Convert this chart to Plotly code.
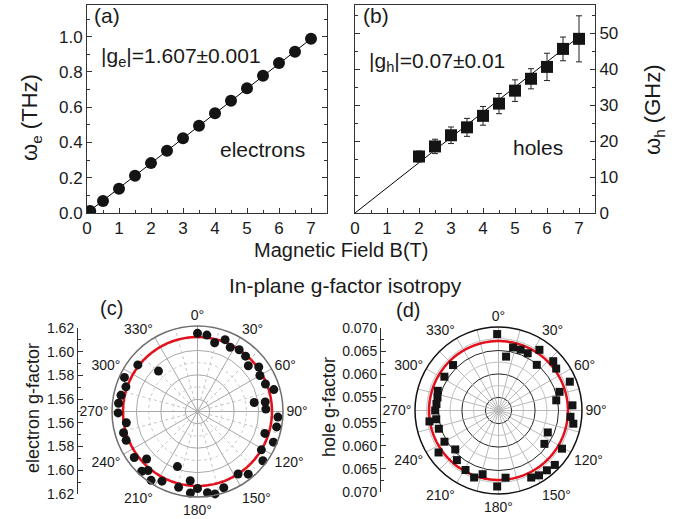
import plotly.graph_objects as go
import numpy as np

W, H = 679, 519
FONT = "Liberation Sans, Arial, sans-serif"

# ---------------- panel (a): electrons ----------------
B_e = [0.1, 0.5, 1, 1.5, 2, 2.5, 3, 3.5, 4, 4.5, 5, 5.5, 6, 6.5, 7]
omega_e = [0.012, 0.068, 0.138, 0.211, 0.283, 0.353, 0.424, 0.495,
           0.566, 0.637, 0.708, 0.778, 0.851, 0.915, 0.988]
fit_B_e = [0, 7]
fit_omega_e = [0, 0.988]

# ---------------- panel (b): holes ----------------
B_h = [2, 2.5, 3, 3.5, 4, 4.5, 5, 5.5, 6, 6.5, 7]
omega_h = [15.7, 18.5, 21.6, 23.8, 27.0, 30.4, 34.0, 37.3, 40.6, 45.6, 48.4]
omega_h_err = [1.5, 2.0, 2.3, 2.5, 2.6, 2.8, 3.0, 2.8, 3.8, 3.3, 6.4]
fit_B_h = [0, 7]
fit_omega_h = [0, 49.0]

# ---------------- panel (c): electron g-factor vs angle ----------------
theta_c = [0, 7, 14, 21, 27, 34, 41, 48, 54, 60, 68, 74, 81, 82, 88, 94, 101,
           108, 112, 121, 127, 141, 147, 161, 168, 173, 180, 185, 186, 194,
           200, 207, 214, 220, 223, 227, 234, 248, 254, 261, 269, 276, 282,
           289, 295, 302, 308, 316]
g_c = [1.614, 1.613, 1.608, 1.613, 1.609, 1.611, 1.610, 1.606, 1.612, 1.609,
       1.610, 1.615, 1.597, 1.606, 1.606, 1.616, 1.616, 1.608, 1.617, 1.611,
       1.617, 1.616, 1.611, 1.616, 1.619, 1.617, 1.613, 1.617, 1.607, 1.614,
       1.598, 1.614, 1.618, 1.613, 1.617, 1.607, 1.614, 1.613, 1.613, 1.609,
       1.615, 1.615, 1.614, 1.612, 1.616, 1.621, 1.612, 1.596]
g_c_fit = 1.611
g_c_center = 1.55
g_c_ticks = [1.56, 1.58, 1.60, 1.62]

# ---------------- panel (d): hole g-factor vs angle ----------------
theta_d = [359, 8, 13, 20, 27, 34, 40, 48, 54, 68, 73, 80, 86, 95, 100, 114,
           121, 126, 134, 141, 148, 154, 174, 181, 194, 200, 209, 220, 228,
           235, 240, 253, 261, 262, 270, 276, 282, 288, 302, 315]
g_d = [0.0685, 0.0638, 0.0660, 0.0660, 0.0659, 0.0678, 0.0649, 0.0679,
       0.0674, 0.0686, 0.0658, 0.0647, 0.0680, 0.0676, 0.0684, 0.0637,
       0.0680, 0.0643, 0.0689, 0.0686, 0.0685, 0.0681, 0.0666, 0.0684,
       0.0662, 0.0674, 0.0667, 0.0660, 0.0646, 0.0678, 0.0655, 0.0655,
       0.0671, 0.0656, 0.0657, 0.0655, 0.0655, 0.0658, 0.0658, 0.0659]
g_d_fit = 0.0670
g_d_center = 0.0522
g_d_ticks = [0.055, 0.060, 0.065, 0.070]

angle_ticks = list(range(0, 360, 30))


def px(x):
    return x / W


def py(y):
    return 1 - y / H


fig = go.Figure()

# (a)
fig.add_trace(go.Scatter(x=fit_B_e, y=fit_omega_e, mode="lines",
                         line=dict(color="black", width=1),
                         xaxis="x", yaxis="y", showlegend=False))
fig.add_trace(go.Scatter(x=B_e, y=omega_e, mode="markers",
                         marker=dict(color="#141414", size=12, symbol="circle"),
                         xaxis="x", yaxis="y", showlegend=False))
# (b)
fig.add_trace(go.Scatter(x=fit_B_h, y=fit_omega_h, mode="lines",
                         line=dict(color="black", width=1),
                         xaxis="x2", yaxis="y2", showlegend=False))
fig.add_trace(go.Scatter(x=B_h, y=omega_h, mode="markers",
                         marker=dict(color="#141414", size=12, symbol="square"),
                         error_y=dict(type="data", array=omega_h_err,
                                      color="#222", thickness=1, width=3),
                         xaxis="x2", yaxis="y2", showlegend=False))

# (c) polar
circ = np.linspace(0, 360, 361)
for gv in [1.57, 1.59, 1.61]:
    fig.add_trace(go.Scatterpolar(r=[gv] * len(circ), theta=circ, mode="lines",
                                  line=dict(color="#c4c4c4", width=1, dash="dot"),
                                  subplot="polar", showlegend=False,
                                  hoverinfo="skip"))
for th in range(15, 360, 30):
    fig.add_trace(go.Scatterpolar(r=[1.56, 1.62], theta=[th, th], mode="lines",
                                  line=dict(color="#c4c4c4", width=1, dash="dot"),
                                  subplot="polar", showlegend=False,
                                  hoverinfo="skip"))
fig.add_trace(go.Scatterpolar(r=[g_c_fit] * len(circ), theta=circ, mode="lines",
                              line=dict(color="#e3101c", width=2.5),
                              subplot="polar", showlegend=False))
fig.add_trace(go.Scatterpolar(r=g_c, theta=theta_c, mode="markers",
                              marker=dict(color="#141414", size=9),
                              subplot="polar", showlegend=False))

# (d) polar
for gv in [0.0575, 0.0625, 0.0675]:
    fig.add_trace(go.Scatterpolar(r=[gv] * len(circ), theta=circ, mode="lines",
                                  line=dict(color="#b8b8b8", width=1),
                                  subplot="polar2", showlegend=False,
                                  hoverinfo="skip"))
for th in range(15, 360, 30):
    fig.add_trace(go.Scatterpolar(r=[g_d_center, g_d_ticks[-1]], theta=[th, th],
                                  mode="lines", line=dict(color="#b8b8b8", width=1),
                                  subplot="polar2", showlegend=False,
                                  hoverinfo="skip"))
fig.add_trace(go.Scatterpolar(r=[g_d_fit] * len(circ), theta=circ, mode="lines",
                              line=dict(color="#e3101c", width=2.5),
                              subplot="polar2", showlegend=False))
fig.add_trace(go.Scatterpolar(r=g_d, theta=theta_d, mode="markers",
                              marker=dict(color="#141414", size=8, symbol="square"),
                              subplot="polar2", showlegend=False))

# dummy traces for the side linear axes of (c) and (d)
fig.add_trace(go.Scatter(x=[0], y=[0], mode="markers", marker=dict(opacity=0),
                         xaxis="x3", yaxis="y3", showlegend=False, hoverinfo="skip"))
fig.add_trace(go.Scatter(x=[0], y=[0], mode="markers", marker=dict(opacity=0),
                         xaxis="x4", yaxis="y4", showlegend=False, hoverinfo="skip"))

tickfont = dict(family=FONT, size=17, color="#1a1a1a")
smallfont = dict(family=FONT, size=14, color="#1a1a1a")

top_dom_y = [py(213), py(5)]
xa_common = dict(range=[0, 7.5], tickvals=list(range(0, 8)), ticks="inside",
                 ticklen=5, tickcolor="#333", showline=True, linecolor="#333",
                 linewidth=1, mirror=True, showgrid=False, zeroline=False,
                 tickfont=tickfont, automargin=False,
                 minor=dict(ticks="inside", ticklen=3, dtick=0.5, tick0=0,
                            tickcolor="#333"))

# side axes for polar
c_dom_y = [py(494), py(328)]
d_dom_y = [py(492), py(328)]
c_vals = [g - g_c_center for g in g_c_ticks]
c_tickvals = c_vals + [-v for v in c_vals]
c_ticktext = ["%.2f" % g for g in g_c_ticks] * 2
c_rng = g_c_ticks[-1] - g_c_center
d_vals = [g - g_d_center for g in g_d_ticks]
d_tickvals = d_vals + [-v for v in d_vals]
d_ticktext = ["%.3f" % g for g in g_d_ticks] * 2
d_rng = g_d_ticks[-1] - g_d_center
d_minor = [g - g_d_center for g in [0.0575, 0.0625, 0.0675]]

fig.update_layout(
    template="none",
    width=W, height=H,
    margin=dict(l=0, r=0, t=0, b=0, pad=0, autoexpand=False),
    paper_bgcolor="white", plot_bgcolor="white",
    font=dict(family=FONT, color="#1a1a1a"),
    showlegend=False,
    xaxis=dict(domain=[px(87), px(327)], anchor="y", **xa_common),
    yaxis=dict(domain=top_dom_y, anchor="x", range=[0, 1.18],
               tickvals=[0, 0.2, 0.4, 0.6, 0.8, 1.0],
               ticktext=["0.0", "0.2", "0.4", "0.6", "0.8", "1.0"],
               ticks="inside", ticklen=5, tickcolor="#333", showline=True,
               linecolor="#333", mirror="ticks", showgrid=False, zeroline=False,
               tickfont=tickfont, automargin=False,
               minor=dict(ticks="inside", ticklen=3, dtick=0.1, tick0=0,
                          tickcolor="#333")),
    xaxis2=dict(domain=[px(355), px(595)], anchor="y2", **xa_common),
    yaxis2=dict(domain=top_dom_y, anchor="x2", side="right", range=[0, 57.8],
                tickvals=[0, 10, 20, 30, 40, 50],
                ticks="inside", ticklen=5, tickcolor="#333", showline=True,
                linecolor="#333", mirror="ticks", showgrid=False, zeroline=False,
                tickfont=tickfont, automargin=False,
                minor=dict(ticks="inside", ticklen=3, dtick=5, tick0=0,
                           tickcolor="#333")),
    xaxis3=dict(domain=[px(78), px(79)], anchor="y3", visible=False, range=[0, 1],
                automargin=False),
    yaxis3=dict(domain=c_dom_y, anchor="x3", range=[-c_rng, c_rng],
                tickvals=c_tickvals, ticktext=c_ticktext, ticks="inside",
                ticklen=5, tickcolor="#333", showline=True, linecolor="#333",
                showgrid=False, zeroline=False, tickfont=smallfont, automargin=False,
                minor=dict(ticks="inside", ticklen=3, dtick=0.02, tick0=0,
                           tickcolor="#333")),
    xaxis4=dict(domain=[px(381), px(382)], anchor="y4", visible=False, range=[0, 1],
                automargin=False),
    yaxis4=dict(domain=d_dom_y, anchor="x4", range=[-d_rng, d_rng],
                tickvals=d_tickvals, ticktext=d_ticktext, ticks="inside",
                ticklen=5, tickcolor="#333", showline=True, linecolor="#333",
                showgrid=False, zeroline=False, tickfont=smallfont, automargin=False,
                minor=dict(ticks="inside", ticklen=3, tickmode="array",
                           tickvals=d_minor + [-v for v in d_minor],
                           tickcolor="#333")),
    polar=dict(
        domain=dict(x=[px(112), px(283)], y=[py(497), py(326)]),
        bgcolor="white",
        radialaxis=dict(range=[g_c_center, g_c_ticks[-1]], tickvals=[1.56, 1.58, 1.60],
                        showticklabels=False, ticks="", showline=False,
                        gridcolor="#a8a8a8", gridwidth=1),
        angularaxis=dict(rotation=90, direction="clockwise",
                         tickvals=angle_ticks,
                         ticktext=["%d°" % a for a in angle_ticks],
                         gridcolor="#a8a8a8", gridwidth=1, showline=True,
                         linecolor="#6e6e6e", linewidth=1.5, ticks="",
                         tickfont=smallfont),
    ),
    polar2=dict(
        domain=dict(x=[px(415), px(582)], y=[py(494), py(327)]),
        bgcolor="white",
        radialaxis=dict(range=[g_d_center, g_d_ticks[-1]], tickvals=[0.055, 0.060, 0.065],
                        showticklabels=False, ticks="", showline=False,
                        gridcolor="#222", gridwidth=1),
        angularaxis=dict(rotation=90, direction="clockwise",
                         tickvals=angle_ticks,
                         ticktext=["%d°" % a for a in angle_ticks],
                         gridcolor="#b8b8b8", gridwidth=1, showline=True,
                         linecolor="#111", linewidth=1.5, ticks="",
                         tickfont=smallfont),
    ),
)

ann_font = dict(family=FONT, size=21, color="#1a1a1a")
annots = [
    dict(text="(a)", x=px(92), y=py(16), xanchor="left", yanchor="middle", font=ann_font),
    dict(text="|g<sub>e</sub>|=1.607±0.001", x=px(99), y=py(57), xanchor="left",
         yanchor="middle", font=ann_font),
    dict(text="electrons", x=px(262), y=py(150), xanchor="center", yanchor="middle",
         font=ann_font),
    dict(text="(b)", x=px(361), y=py(16), xanchor="left", yanchor="middle", font=ann_font),
    dict(text="|g<sub>h</sub>|=0.07±0.01", x=px(367), y=py(62), xanchor="left",
         yanchor="middle", font=ann_font),
    dict(text="holes", x=px(538), y=py(148), xanchor="center", yanchor="middle",
         font=ann_font),
    dict(text="ω<sub>e</sub> (THz)", x=px(31), y=py(118), xanchor="center",
         yanchor="middle", textangle=-90, font=dict(family=FONT, size=22, color="#1a1a1a")),
    dict(text="ω<sub>h</sub> (GHz)", x=px(654), y=py(110), xanchor="center",
         yanchor="middle", textangle=-90, font=dict(family=FONT, size=22, color="#1a1a1a")),
    dict(text="Magnetic Field B(T)", x=px(341), y=py(250), xanchor="center",
         yanchor="middle", font=dict(family=FONT, size=20, color="#1a1a1a")),
    dict(text="In-plane g-factor isotropy", x=px(345), y=py(285), xanchor="center",
         yanchor="middle", font=ann_font),
    dict(text="(c)", x=px(111), y=py(308), xanchor="center", yanchor="middle",
         font=dict(family=FONT, size=20, color="#1a1a1a")),
    dict(text="(d)", x=px(408), y=py(310), xanchor="center", yanchor="middle",
         font=dict(family=FONT, size=20, color="#1a1a1a")),
    dict(text="electron g-factor", x=px(33), y=py(408), xanchor="center",
         yanchor="middle", textangle=-90, font=dict(family=FONT, size=18, color="#1a1a1a")),
    dict(text="hole g-factor", x=px(329), y=py(407), xanchor="center",
         yanchor="middle", textangle=-90, font=dict(family=FONT, size=18, color="#1a1a1a")),
]
for a in annots:
    a.update(xref="paper", yref="paper", showarrow=False)
fig.update_layout(annotations=annots)

fig.write_html("out.html",
               config={"displayModeBar": False},
               post_script="document.body.style.margin='0';"
                           "document.body.style.overflow='hidden';")
